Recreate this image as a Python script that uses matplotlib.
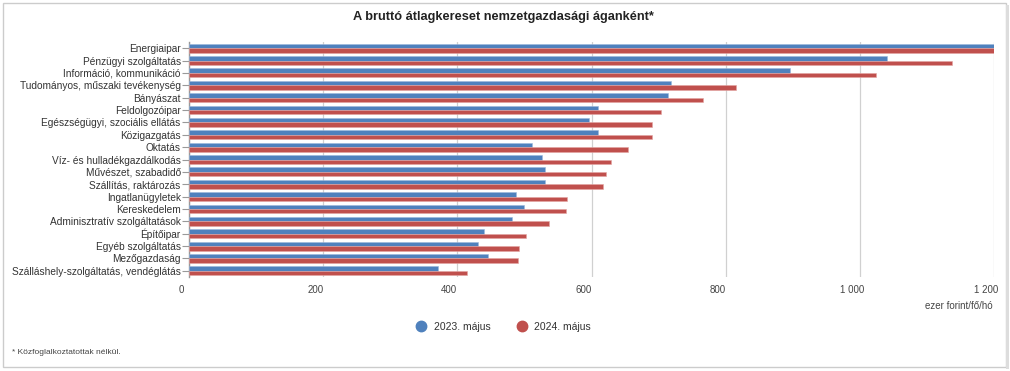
import matplotlib
matplotlib.use("Agg")
import matplotlib.pyplot as plt
import matplotlib.transforms as mtransforms
from matplotlib.patches import Rectangle
from matplotlib.lines import Line2D
import numpy as np

plt.rcParams['font.family'] = ['Liberation Sans', 'DejaVu Sans']

categories = [
    "Energiaipar", "Pénzügyi szolgáltatás", "Információ, kommunikáció",
    "Tudományos, műszaki tevékenység", "Bányászat", "Feldolgozóipar",
    "Egészségügyi, szociális ellátás", "Közigazgatás", "Oktatás",
    "Víz- és hulladékgazdálkodás", "Művészet, szabadidő", "Szállítás, raktározás",
    "Ingatlanügyletek", "Kereskedelem", "Adminisztratív szolgáltatások",
    "Építőipar", "Egyéb szolgáltatás", "Mezőgazdaság",
    "Szálláshely-szolgáltatás, vendéglátás",
]
may_2023 = [1290, 1040, 896, 718, 714, 610, 597, 609, 512, 526, 530, 530,
            488, 500, 482, 440, 431, 445, 371]
may_2024 = [1380, 1138, 1024, 816, 766, 703, 690, 690, 655, 629, 621, 617,
            563, 562, 537, 503, 492, 491, 415]
series_names = ["2023. május", "2024. május"]
x_ticks = [0, 200, 400, 600, 800, 1000, 1200]
x_tick_labels = ["0", "200", "400", "600", "800", "1 000", "1 200"]
title = "A bruttó átlagkereset nemzetgazdasági áganként*"
unit_label = "ezer forint/fő/hó"
footnote = "* Közfoglalkoztatottak nélkül."

BLUE = "#4F81BD"
RED = "#C0504D"

W, H = 1010, 371
fig = plt.figure(figsize=(W / 100, H / 100), dpi=100)

# frame around chart
fig.patches.append(Rectangle((3 / W, 1 - 367 / H), 1003 / W, 364 / H,
                             transform=fig.transFigure, fill=False,
                             edgecolor="#CCCCCC", linewidth=1.0))
fig.patches.append(Rectangle((1006 / W, 1 - 369 / H), 3 / W, 364 / H,
                             transform=fig.transFigure, facecolor="#DDDDDD",
                             edgecolor="none"))

ax_l, ax_r, ax_t, ax_b = 189, 994, 42, 277
ax = fig.add_axes([ax_l / W, 1 - ax_b / H, (ax_r - ax_l) / W, (ax_b - ax_t) / H])

n = len(categories)
y = np.arange(n)
h = 0.36
ax.barh(y - h / 2, may_2023, height=h, color=BLUE, edgecolor="#9DB8DC",
        linewidth=0.4, zorder=3)
ax.barh(y + h / 2, may_2024, height=h, color=RED, edgecolor="#E3A5A3",
        linewidth=0.4, zorder=3)

ax.set_xlim(0, 1200)
ax.set_ylim(n - 0.5, -0.5)
ax.set_yticks(y)
ax.set_yticklabels(categories, fontsize=7.3, color="#333333")
ax.set_xticks(x_ticks)
ax.set_xticklabels(x_tick_labels, fontsize=7, color="#444444")
ax.tick_params(axis="y", length=5, width=0.8, color="#999999", pad=1)
ax.tick_params(axis="x", length=0, pad=6)
offset = mtransforms.ScaledTranslation(-8 / 100, 0, fig.dpi_scale_trans)
for lbl in ax.get_xticklabels():
    lbl.set_transform(lbl.get_transform() + offset)

ax.grid(axis="x", color="#D0D0D0", linewidth=0.9, zorder=0)
for s in ["top", "right", "bottom"]:
    ax.spines[s].set_visible(False)
ax.spines["left"].set_color("#999999")
ax.spines["left"].set_linewidth(1.0)

fig.text(503 / W, 1 - 17 / H, title, ha="center", va="center",
         fontsize=9.2, fontweight="bold", color="#222222")
fig.text(993 / W, 1 - 306 / H, unit_label, ha="right", va="center",
         fontsize=7, color="#444444")

handles = [Line2D([], [], marker="o", linestyle="none", markersize=7.5,
                  markerfacecolor=c, markeredgecolor=c) for c in (BLUE, RED)]
fig.legend(handles, series_names, loc="center", bbox_to_anchor=(501 / W, 1 - 327 / H),
           ncol=2, frameon=False, fontsize=7.5, handletextpad=0.2,
           columnspacing=2.0, labelcolor="#333333")

fig.text(12 / W, 1 - 352 / H, footnote, ha="left", va="center",
         fontsize=6, color="#444444")

fig.savefig("out.png", dpi=100)
